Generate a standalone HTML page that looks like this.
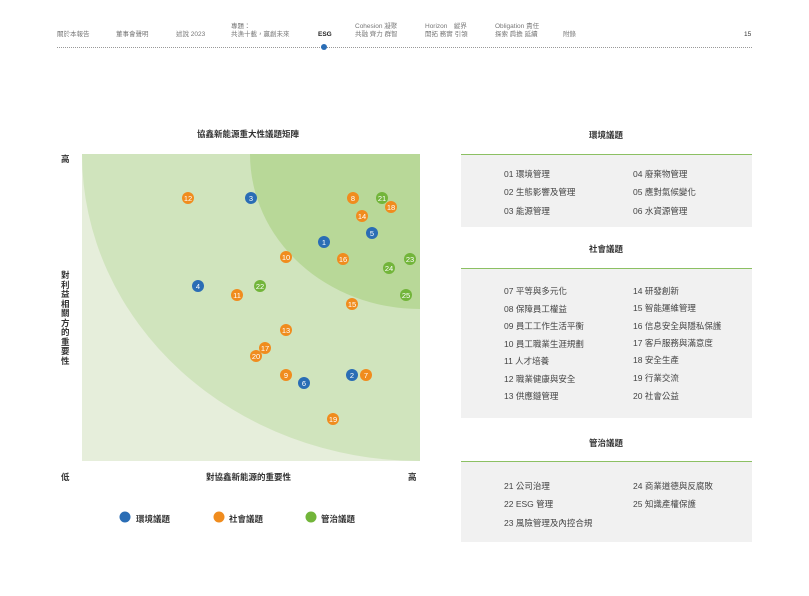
<!DOCTYPE html>
<html><head><meta charset="utf-8"><style>
body{margin:0;width:809px;height:596px;background:#fff;font-family:"Liberation Sans","Noto Sans CJK TC",sans-serif;color:#444;position:relative;overflow:hidden}
.a{position:absolute;white-space:nowrap}
.nav{font-size:6.5px;color:#777;line-height:8px}
.t{font-size:8.5px;font-weight:bold;color:#333}
.box{position:absolute;left:461px;width:291px;background:#f1f1f1;border-top:1.5px solid #8cc063}
.it{position:absolute;font-size:8.5px;color:#444}
</style></head><body>
<div class="a nav" style="left:57px;top:31px">關於本報告</div>
<div class="a nav" style="left:116px;top:31px">董事會聲明</div>
<div class="a nav" style="left:176px;top:31px">述說 2023</div>
<div class="a nav" style="left:231px;top:23px">專題：<br>共漁十載，贏創未來</div>
<div class="a nav" style="left:318px;top:31px;color:#222;font-weight:bold">ESG</div>
<div class="a nav" style="left:355px;top:23px">Cohesion 凝聚<br>共融 齊力 群智</div>
<div class="a nav" style="left:425px;top:23px">Horizon　縱界<br>開拓 務實 引領</div>
<div class="a nav" style="left:495px;top:23px">Obligation 責任<br>探索 肩擔 延續</div>
<div class="a nav" style="left:563px;top:31px">附錄</div>
<div class="a nav" style="left:744px;top:31px;color:#333">15</div>
<div class="a" style="left:57px;top:47px;width:695px;border-top:1px dotted #999"></div>
<div class="a" style="left:321px;top:44px;width:6px;height:6px;border-radius:50%;background:#2a6db5"></div>

<div class="a t" style="left:197px;top:128px">協鑫新能源重大性議題矩陣</div>
<div class="a t" style="left:61px;top:153px">高</div>
<div class="a t" style="left:61px;top:271px;width:10px;white-space:normal;line-height:9.5px">對利益相關方的重要性</div>
<div class="a t" style="left:61px;top:471px">低</div>
<div class="a t" style="left:206px;top:471px">對協鑫新能源的重要性</div>
<div class="a t" style="left:408px;top:471px">高</div>
<svg class="a" style="left:0;top:0" width="809" height="596">
<defs><clipPath id="c"><rect x="82" y="154" width="338" height="307"/></clipPath></defs>
<rect x="82" y="154" width="338" height="307" fill="#e6eedb"/>
<g clip-path="url(#c)">
<ellipse cx="420" cy="154" rx="338" ry="307" fill="#d0e4bd"/>
<ellipse cx="420" cy="154" rx="170" ry="155" fill="#b8d898"/>
</g>
<g font-size="7.5" fill="#fff" text-anchor="middle" font-family="Liberation Sans,sans-serif">
<g fill="#f08c1e"><circle cx="188" cy="198" r="6"/><circle cx="353" cy="198" r="6"/><circle cx="391" cy="207" r="6"/><circle cx="362" cy="216" r="6"/><circle cx="286" cy="257" r="6"/><circle cx="343" cy="259" r="6"/><circle cx="237" cy="295" r="6"/><circle cx="352" cy="304" r="6"/><circle cx="286" cy="330" r="6"/><circle cx="265" cy="348" r="6"/><circle cx="256" cy="356" r="6"/><circle cx="286" cy="375" r="6"/><circle cx="366" cy="375" r="6"/><circle cx="333" cy="419" r="6"/><circle cx="219" cy="517" r="5.5"/></g>
<g fill="#2a6db5"><circle cx="251" cy="198" r="6"/><circle cx="372" cy="233" r="6"/><circle cx="324" cy="242" r="6"/><circle cx="198" cy="286" r="6"/><circle cx="304" cy="383" r="6"/><circle cx="352" cy="375" r="6"/><circle cx="125" cy="517" r="5.5"/></g>
<g fill="#72b53a"><circle cx="382" cy="198" r="6"/><circle cx="410" cy="259" r="6"/><circle cx="389" cy="268" r="6"/><circle cx="260" cy="286" r="6"/><circle cx="406" cy="295" r="6"/><circle cx="311" cy="517" r="5.5"/></g>
<text x="188" y="201">12</text><text x="353" y="201">8</text><text x="391" y="210">18</text><text x="362" y="219">14</text><text x="286" y="260">10</text><text x="343" y="262">16</text><text x="237" y="298">11</text><text x="352" y="307">15</text><text x="286" y="333">13</text><text x="265" y="351">17</text><text x="256" y="359">20</text><text x="286" y="378">9</text><text x="366" y="378">7</text><text x="333" y="422">19</text>
<text x="251" y="201">3</text><text x="372" y="236">5</text><text x="324" y="245">1</text><text x="198" y="289">4</text><text x="304" y="386">6</text><text x="352" y="378">2</text>
<text x="382" y="201">21</text><text x="410" y="262">23</text><text x="389" y="271">24</text><text x="260" y="289">22</text><text x="406" y="298">25</text>
</g>
</svg>
<div class="a t" style="left:136px;top:513px">環境議題</div>
<div class="a t" style="left:229px;top:513px">社會議題</div>
<div class="a t" style="left:321px;top:513px">管治議題</div>

<div class="a t" style="left:589px;top:129px">環境議題</div>
<div class="box" style="top:154px;height:72px"></div>
<div class="it" style="left:504px;top:168px">01 環境管理</div><div class="it" style="left:633px;top:168px">04 廢棄物管理</div>
<div class="it" style="left:504px;top:186px">02 生態影響及管理</div><div class="it" style="left:633px;top:186px">05 應對氣候變化</div>
<div class="it" style="left:504px;top:205px">03 能源管理</div><div class="it" style="left:633px;top:205px">06 水資源管理</div>

<div class="a t" style="left:589px;top:243px">社會議題</div>
<div class="box" style="top:268px;height:149px"></div>
<div class="it" style="left:504px;top:285px">07 平等與多元化</div><div class="it" style="left:633px;top:285px">14 研發創新</div>
<div class="it" style="left:504px;top:303px">08 保障員工權益</div><div class="it" style="left:633px;top:302px">15 智能運維管理</div>
<div class="it" style="left:504px;top:320px">09 員工工作生活平衡</div><div class="it" style="left:633px;top:320px">16 信息安全與隱私保護</div>
<div class="it" style="left:504px;top:338px">10 員工職業生涯規劃</div><div class="it" style="left:633px;top:337px">17 客戶服務與滿意度</div>
<div class="it" style="left:504px;top:355px">11 人才培養</div><div class="it" style="left:633px;top:354px">18 安全生產</div>
<div class="it" style="left:504px;top:373px">12 職業健康與安全</div><div class="it" style="left:633px;top:372px">19 行業交流</div>
<div class="it" style="left:504px;top:390px">13 供應鏈管理</div><div class="it" style="left:633px;top:390px">20 社會公益</div>

<div class="a t" style="left:589px;top:437px">管治議題</div>
<div class="box" style="top:461px;height:80px"></div>
<div class="it" style="left:504px;top:480px">21 公司治理</div><div class="it" style="left:633px;top:480px">24 商業道德與反腐敗</div>
<div class="it" style="left:504px;top:498px">22 ESG 管理</div><div class="it" style="left:633px;top:498px">25 知識產權保護</div>
<div class="it" style="left:504px;top:517px">23 風險管理及內控合規</div>
</body></html>
